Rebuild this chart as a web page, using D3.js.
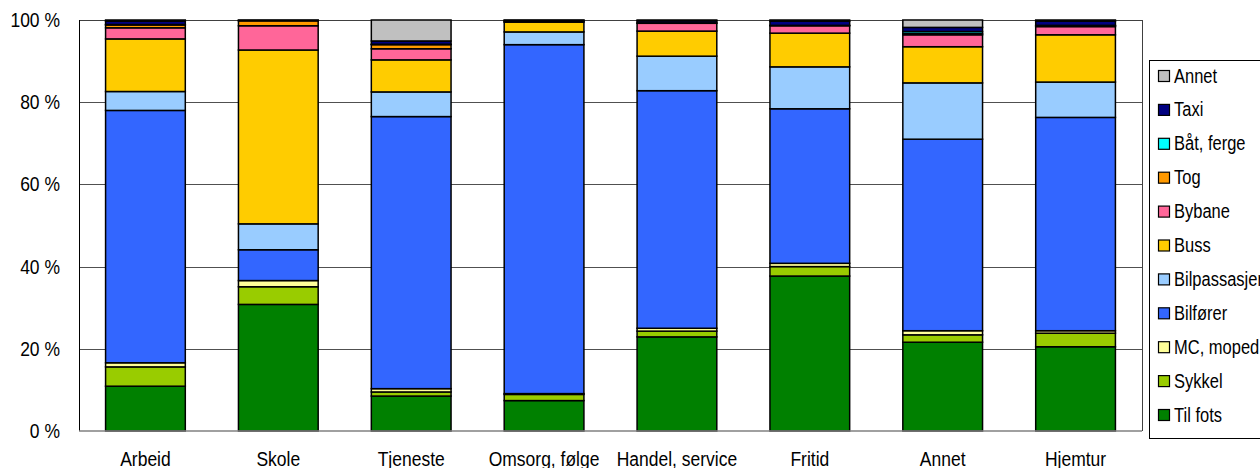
<!DOCTYPE html>
<html>
<head>
<meta charset="utf-8">
<script src="https://cdn.jsdelivr.net/npm/d3@7"></script>
<style>
  body { margin: 0; background: #fff; }
  svg text { font-family: "Liberation Sans", Arial, sans-serif; fill: #000; }
</style>
</head>
<body>
<div class="chart"></div>
<script>
var w = 1260,
  h = 468;

// categories (x axis)
var categories = ['Arbeid', 'Skole', 'Tjeneste', 'Omsorg, følge', 'Handel, service', 'Fritid', 'Annet', 'Hjemtur'];

// series, bottom to top, values in %
var tilFots     = [10.9, 30.8,  8.5,  7.4, 22.9, 37.7, 21.6, 20.5];
var sykkel      = [ 4.7,  4.3,  1.0,  1.5,  1.4,  2.3,  1.8,  3.3];
var mcMoped     = [ 1.0,  1.5,  0.8,  0.2,  0.7,  0.8,  1.0,  0.6];
var bilforer    = [61.4,  7.5, 66.2, 84.9, 57.8, 37.6, 46.6, 51.9];
var bilpass     = [ 4.6,  6.3,  6.0,  3.1,  8.4, 10.2, 13.7,  8.6];
var buss        = [12.8, 42.3,  7.8,  2.4,  6.1,  8.2,  8.8, 11.5];
var bybane      = [ 2.7,  5.9,  2.7,  0.1,  1.9,  1.8,  2.9,  2.0];
var tog         = [ 0.7,  1.2,  1.0,  0.0,  0.1,  0.1,  0.3,  0.2];
var batFerge    = [ 0.1,  0.0,  0.1,  0.0,  0.0,  0.0,  0.5,  0.1];
var taxi        = [ 0.8,  0.1,  0.8,  0.3,  0.5,  1.0,  1.0,  1.0];
var annet       = [ 0.3,  0.1,  5.1,  0.1,  0.2,  0.3,  1.8,  0.3];

var seriesNames = ['Til fots', 'Sykkel', 'MC, moped', 'Bilfører', 'Bilpassasjer', 'Buss', 'Bybane', 'Tog', 'Båt, ferge', 'Taxi', 'Annet'];
var seriesValues = [tilFots, sykkel, mcMoped, bilforer, bilpass, buss, bybane, tog, batFerge, taxi, annet];
var colors = ['#008000', '#99cc00', '#ffff99', '#3366ff', '#99ccff', '#ffcc00', '#ff6699', '#ff9900', '#00ffff', '#000080', '#c0c0c0'];

var yTicks = [0, 20, 40, 60, 80, 100];

// plot area (note: "top" is taken by window.top)
var plotLeft = 79, plotRight = 1142, plotTop = 20, plotBottom = 431;

// build rows for the stack
var rows = categories.map(function (c, i) {
  var r = { cat: c };
  seriesNames.forEach(function (s, j) { r[s] = seriesValues[j][i]; });
  return r;
});

var stacked = d3.stack().keys(seriesNames)(rows);

var x = d3.scaleBand()
  .domain(categories)
  .range([plotLeft, plotRight])
  .paddingInner(0.4)
  .paddingOuter(0.2);

var y = d3.scaleLinear()
  .domain([0, 100])
  .range([plotBottom, plotTop]);

var color = d3.scaleOrdinal().domain(seriesNames).range(colors);

var svg = d3.select('.chart')
  .append('svg')
  .attr('width', w)
  .attr('height', h);

// gridlines
svg.append('g')
  .selectAll('line')
  .data(yTicks.filter(function (d) { return d > 0 && d < 100; }))
  .enter()
  .append('line')
  .attr('x1', plotLeft)
  .attr('x2', plotRight)
  .attr('y1', function (d) { return Math.round(y(d)) + 0.5; })
  .attr('y2', function (d) { return Math.round(y(d)) + 0.5; })
  .attr('stroke', '#505050')
  .attr('stroke-width', 1);

// plot frame top / right
svg.append('line')
  .attr('x1', plotLeft).attr('x2', plotRight)
  .attr('y1', plotTop + 0.5).attr('y2', plotTop + 0.5)
  .attr('stroke', '#404040');
svg.append('line')
  .attr('x1', plotRight + 0.5).attr('x2', plotRight + 0.5)
  .attr('y1', plotTop).attr('y2', plotBottom)
  .attr('stroke', '#404040');

// bars
svg.append('g')
  .selectAll('g')
  .data(stacked)
  .enter()
  .append('g')
  .attr('fill', function (d) { return color(d.key); })
  .selectAll('rect')
  .data(function (d) { return d.filter(function (p) { return p[1] - p[0] > 0; }); })
  .enter()
  .append('rect')
  .attr('x', function (d) { return x(d.data.cat); })
  .attr('y', function (d) { return y(d[1]); })
  .attr('width', x.bandwidth())
  .attr('height', function (d) { return y(d[0]) - y(d[1]); })
  .attr('stroke', '#000')
  .attr('stroke-width', 1.5);

// axes lines
svg.append('line')
  .attr('x1', plotLeft + 0.5).attr('x2', plotLeft + 0.5)
  .attr('y1', plotTop).attr('y2', plotBottom)
  .attr('stroke', '#000');
svg.append('line')
  .attr('x1', plotLeft).attr('x2', plotRight)
  .attr('y1', plotBottom).attr('y2', plotBottom)
  .attr('stroke', '#808080')
  .attr('stroke-width', 1.5);

// y labels (text slightly stretched vertically like the original)
svg.append('g')
  .selectAll('text')
  .data(yTicks)
  .enter()
  .append('text')
  .attr('transform', function (d) { return 'translate(60,' + (y(d) + 7) + ') scale(1,1.2)'; })
  .attr('text-anchor', 'end')
  .attr('font-size', '17.5px')
  .text(function (d) { return d + ' %'; });

// x labels
svg.append('g')
  .selectAll('text')
  .data(categories)
  .enter()
  .append('text')
  .attr('transform', function (d) { return 'translate(' + (x(d) + x.bandwidth() / 2) + ',466) scale(1,1.2)'; })
  .attr('text-anchor', 'middle')
  .attr('font-size', '17.5px')
  .text(function (d) { return d; });

// legend
var legend = svg.append('g');
legend.append('rect')
  .attr('x', 1149.5)
  .attr('y', 60.5)
  .attr('width', 140)
  .attr('height', 378)
  .attr('fill', '#fff')
  .attr('stroke', '#000');

var legendItems = legend.selectAll('g.item')
  .data(seriesNames.slice().reverse())
  .enter()
  .append('g')
  .attr('class', 'item')
  .attr('transform', function (d, i) { return 'translate(1158,' + (76 + i * 33.9) + ')'; });

legendItems.append('rect')
  .attr('x', 0.5)
  .attr('y', -5.5)
  .attr('width', 11)
  .attr('height', 11)
  .attr('fill', function (d) { return color(d); })
  .attr('stroke', '#000')
  .attr('stroke-width', 1.2);

legendItems.append('text')
  .attr('transform', 'translate(16,6.5) scale(1,1.2)')
  .attr('font-size', '16.5px')
  .text(function (d) { return d; });
</script>
</body>
</html>
